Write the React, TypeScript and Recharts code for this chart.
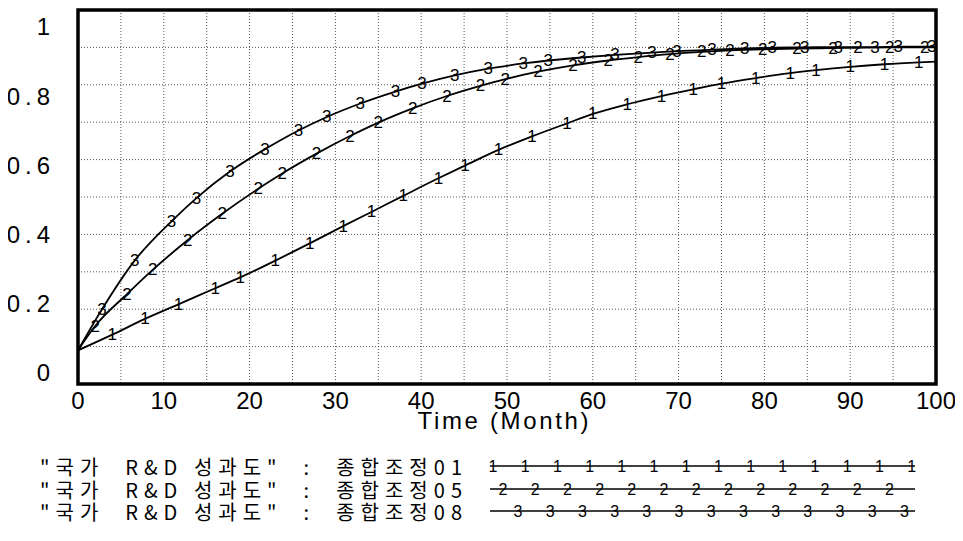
import React from 'react';
import { LineChart, Line, XAxis, YAxis, CartesianGrid, ReferenceArea, Legend } from 'recharts';

const SERIES_NAMES = [
  '"국가  R&D 성과도"  :  종합조정01',
  '"국가  R&D 성과도"  :  종합조정05',
  '"국가  R&D 성과도"  :  종합조정08',
];
const SERIES_MARKS = ['1', '2', '3'];

const TIME_1 = [0, 4, 7.8, 11.7, 16, 18.9, 23, 27, 30.9, 34.2, 37.9, 42, 45.1, 49, 52.9, 57, 60, 64, 68, 71.7, 75, 79, 83, 86, 90, 94, 98, 100];
const VALUE_1 = [0.09, 0.132, 0.174, 0.213, 0.256, 0.285, 0.33, 0.376, 0.422, 0.46, 0.503, 0.55, 0.584, 0.626, 0.662, 0.697, 0.722, 0.748, 0.77, 0.788, 0.803, 0.818, 0.831, 0.839, 0.848, 0.855, 0.86, 0.862];

const TIME_2 = [0, 2, 5.7, 8.7, 12.8, 16.8, 21, 23.8, 27.8, 31.7, 35, 39, 43, 46.9, 49.8, 53.6, 57.7, 61.8, 65.3, 69, 72.7, 76, 79.8, 83.8, 88, 90.9, 94.6, 98.7, 100];
const VALUE_2 = [0.09, 0.155, 0.24, 0.305, 0.385, 0.455, 0.522, 0.563, 0.616, 0.663, 0.699, 0.737, 0.77, 0.797, 0.815, 0.835, 0.852, 0.865, 0.874, 0.882, 0.888, 0.892, 0.895, 0.897, 0.898, 0.899, 0.9, 0.9, 0.9];

const TIME_3 = [0, 2.8, 6.6, 10.9, 13.8, 17.7, 21.8, 25.7, 29, 32.9, 37, 40.1, 43.9, 47.8, 51.9, 54.8, 58.7, 62.6, 66.9, 69.8, 73.9, 77.7, 80.9, 84.7, 88.6, 92.9, 95.6, 99.5, 100];
const VALUE_3 = [0.09, 0.2, 0.33, 0.435, 0.497, 0.568, 0.628, 0.678, 0.714, 0.75, 0.782, 0.803, 0.825, 0.843, 0.857, 0.865, 0.873, 0.88, 0.886, 0.89, 0.894, 0.897, 0.899, 0.9, 0.901, 0.901, 0.902, 0.902, 0.902];

const X_TICKS = [0, 5, 10, 15, 20, 25, 30, 35, 40, 45, 50, 55, 60, 65, 70, 75, 80, 85, 90, 95, 100];
const X_LABEL_TICKS = [0, 10, 20, 30, 40, 50, 60, 70, 80, 90, 100];
const Y_GRID_TICKS = [0, 0.1, 0.2, 0.3, 0.4, 0.5, 0.6, 0.7, 0.8, 0.9, 1];
const Y_LABEL_TICKS = [0, 0.2, 0.4, 0.6, 0.8, 1];
const X_TITLE = 'Time (Month)';

const zip = (ts: number[], vs: number[]) => ts.map((t, i) => ({ t, v: vs[i] }));
const DATA = [zip(TIME_1, VALUE_1), zip(TIME_2, VALUE_2), zip(TIME_3, VALUE_3)];

const FONT = '"Liberation Sans", Arial, sans-serif';
const KFONT = '"Noto Sans CJK KR", "Noto Sans", sans-serif';

const makeDot = (mark: string, count: number) => (props: any) => {
  const { cx, cy, index } = props;
  if (index === 0 || index === count - 1 || cx == null || cy == null) {
    return <g key={`d-${mark}-${index}`} />;
  }
  return (
    <text
      key={`d-${mark}-${index}`}
      x={cx}
      y={cy}
      textAnchor="middle"
      dominantBaseline="central"
      fontSize={17}
      fontFamily={FONT}
      fill="#000"
    >
      {mark}
    </text>
  );
};

const YTick = (props: any) => {
  const { x, y, payload } = props;
  return (
    <text x={x} y={y} textAnchor="end" dominantBaseline="central" fontSize={24} letterSpacing={5} fontFamily={FONT} fill="#000">
      {String(payload.value)}
    </text>
  );
};

const XTitle = (props: any) => {
  const vb = props.viewBox || {};
  return (
    <text
      x={vb.x + vb.width / 2 - 4}
      y={vb.y + 45}
      textAnchor="middle"
      fontSize={24}
      fontFamily={FONT}
      fill="#000"
      textLength={171}
      lengthAdjust="spacing"
    >
      {X_TITLE}
    </text>
  );
};

const LEGEND_ROW_Y = [18, 41, 63];
const LEGEND_MARK_START = [485, 495, 510];
const LEGEND_MARK_COUNT = [14, 13, 13];
const LEGEND_MARK_STEP = 32.2;

const LegendContent = () => (
  <svg width={955} height={90} style={{ display: 'block' }}>
    {SERIES_NAMES.map((name, i) => {
      const cy = LEGEND_ROW_Y[i];
      const marks = Array.from({ length: LEGEND_MARK_COUNT[i] }, (_, k) => LEGEND_MARK_START[i] + k * LEGEND_MARK_STEP);
      return (
        <g key={name + i}>
          <text
            x={32}
            y={cy}
            dominantBaseline="central"
            fontSize={20}
            fontFamily={KFONT}
            fill="#000"
            textLength={422}
            lengthAdjust="spacing"
            style={{ whiteSpace: 'pre' }}
          >
            {name}
          </text>
          <line x1={482} x2={907} y1={cy} y2={cy} stroke="#000" strokeWidth={1.4} />
          {marks.map((mx, k) => (
            <text key={k} x={mx} y={cy} textAnchor="middle" dominantBaseline="central" fontSize={16} fontFamily={FONT} fill="#000">
              {SERIES_MARKS[i]}
            </text>
          ))}
        </g>
      );
    })}
  </svg>
);

export default function App() {
  return (
    <LineChart width={955} height={533} margin={{ top: 2, right: 27, bottom: 107, left: 0 }}>
      <CartesianGrid yAxisId="data" stroke="#555" strokeDasharray="1 2" strokeWidth={1} />
      <XAxis
        dataKey="t"
        type="number"
        domain={[0, 100]}
        ticks={X_TICKS}
        tickFormatter={(v: number) => (X_LABEL_TICKS.includes(v) ? String(v) : '')}
        axisLine={false}
        tickLine={false}
        tickSize={0}
        tickMargin={8}
        height={50}
        interval={0}
        tick={{ fontSize: 24, fontFamily: FONT, fill: '#000' }}
        label={<XTitle />}
        allowDataOverflow
      />
      <YAxis
        yAxisId="labels"
        type="number"
        orientation="left"
        domain={[-0.032, 1.049]}
        ticks={Y_LABEL_TICKS}
        width={70}
        axisLine={false}
        tickLine={false}
        tickSize={0}
        tickMargin={23}
        interval={0}
        tick={<YTick />}
        allowDataOverflow
      />
      <YAxis yAxisId="data" type="number" orientation="right" width={0} domain={[0, 1]} ticks={Y_GRID_TICKS} hide allowDataOverflow />
      <ReferenceArea yAxisId="data" x1={0} x2={100} y1={0} y2={1} fill="none" stroke="#000" strokeWidth={3.5} />
      {DATA.map((d, i) => (
        <Line
          key={SERIES_MARKS[i]}
          yAxisId="data"
          data={d}
          dataKey="v"
          name={SERIES_NAMES[i]}
          type="monotone"
          stroke="#000"
          strokeWidth={1.8}
          dot={makeDot(SERIES_MARKS[i], d.length)}
          activeDot={false}
          isAnimationActive={false}
        />
      ))}
      <Legend
        layout="vertical"
        align="center"
        verticalAlign="middle"
        content={<LegendContent />}
        wrapperStyle={{ left: 0, top: 440, width: 955, height: 90 }}
      />
    </LineChart>
  );
}
